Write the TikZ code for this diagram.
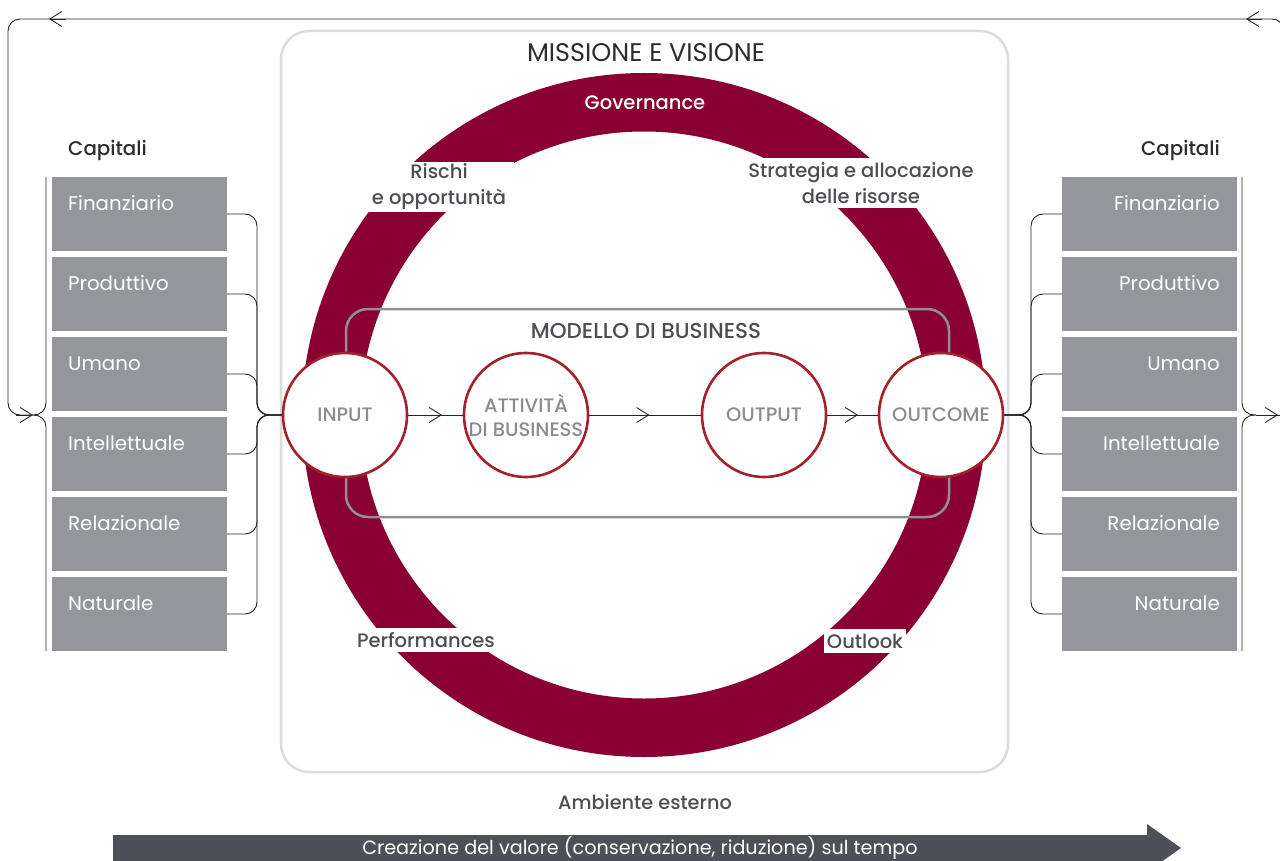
\documentclass[tikz,border=0pt]{standalone}
\usepackage{fontspec}
\setmainfont{Poppins}
\newfontfamily\medfont{Poppins}[UprightFont={* Medium}]
\usetikzlibrary{arrows.meta,decorations.markings}
\definecolor{ringc}{RGB}{138,0,51}
\definecolor{circc}{RGB}{165,32,45}
\definecolor{boxg}{RGB}{148,150,156}
\definecolor{framec}{RGB}{220,220,216}
\definecolor{bizc}{RGB}{142,144,150}
\definecolor{darktxt}{RGB}{45,45,47}
\definecolor{lblg}{RGB}{75,78,83}
\definecolor{procg}{RGB}{138,140,144}
\definecolor{arrowd}{RGB}{77,81,87}
\newcommand{\myfs}[2]{\fontsize{#1}{#2}\selectfont}
\begin{document}
\begin{tikzpicture}[x=1pt,y=-1pt,
  capbox/.style={fill=boxg, minimum width=175pt, minimum height=74pt, inner sep=0pt},
  captext/.style={text=white, font=\myfs{19.8}{22}, inner sep=0pt},
  caphead/.style={text=darktxt, font=\medfont\myfs{19.8}{22}, inner sep=0pt},
  proc/.style={circle, draw=circc, line width=2.6pt, fill=white, minimum size=124pt, inner sep=0pt, text=procg, font=\medfont\myfs{19.5}{24}, align=center},
  thinln/.style={draw=black!85, line width=0.9pt},
  barb/.style={thinln, -{Straight Barb[length=12pt,width=15pt]}},
  midbarb/.style={thinln, postaction={decorate}, decoration={markings, mark=at position #1 with {\arrow{Straight Barb[length=12pt,width=15pt]}}}},
  ringlbl/.style={fill=white, text=lblg, font=\medfont\myfs{19.5}{26}, align=center, inner ysep=0pt, inner xsep=8pt},
]
\useasboundingbox (0,0) rectangle (1280,861);
\fill[white] (0,0) rectangle (1280,861);

% mission frame
\draw[framec, line width=2.5pt, rounded corners=28pt] (281,31) rectangle (1008,772);
\node[text=darktxt, font=\myfs{25.5}{28}] (mission) at (646,53) {MISSIONE E VISIONE};

% ring
\fill[ringc, even odd rule] (644,415) circle[radius=342pt] (644,415) circle[radius=283.5pt];
\node[text=white, font=\medfont\myfs{19.5}{22}] (gov) at (645,103) {Governance};
\node[ringlbl, minimum height=50pt] (risk) at (439,187) {Rischi\\e opportunità};
\node[ringlbl, minimum height=50pt] (strat) at (861,183) {Strategia e allocazione\\delle risorse};
\node[ringlbl, minimum height=24pt, inner xsep=3pt] (perf) at (426,640) {Performances};
\node[ringlbl, minimum height=24pt, inner xsep=3pt] (outl) at (865,641) {Outlook};

% business model
\draw[bizc, line width=2.5pt, rounded corners=22pt] (346,309) rectangle (949,517);
\node[text=lblg, font=\medfont\myfs{21.5}{24}] (biz) at (646,331) {MODELLO DI BUSINESS};

% process circles
\node[proc] (input) at (345,415) {INPUT};
\node[proc] (act) at (526,415) {ATTIVITÀ\\DI BUSINESS};
\node[proc] (output) at (764,415) {OUTPUT};
\node[proc] (outcome) at (941,415) {OUTCOME};
\draw[midbarb=0.62] (input.east) -- (act.west);
\draw[midbarb=0.54] (act.east) -- (output.west);
\draw[midbarb=0.61] (output.east) -- (outcome.west);

% capital boxes
\node[caphead, anchor=base west] (capL) at (68,156) {Capitali};
\node[caphead, anchor=base east] (capR) at (1220,156) {Capitali};
\foreach \i/\t in {0/Finanziario,1/Produttivo,2/Umano,3/Intellettuale,4/Relazionale,5/Naturale}{
  \node[capbox] (L\i) at (139.5,214+80*\i) {};
  \node[captext, anchor=base west] (LT\i) at (68,210.5+80*\i) {\t};
  \node[capbox] (R\i) at (1149.5,214+80*\i) {};
  \node[captext, anchor=base east] (RT\i) at (1220,210.5+80*\i) {\t};
  \draw[thinln, rounded corners=12pt] (L\i.east) -- (257,214+80*\i) -- (257,415) -- (input.west);
  \draw[thinln, rounded corners=12pt] (R\i.west) -- (1031,214+80*\i) -- (1031,415) -- (outcome.east);
}

% braces
\coordinate (lt) at (32,415);
\coordinate (rt) at (1256,415);
\draw[thinln, rounded corners=12pt] (46,177) -- (46,415) -- (lt);
\draw[thinln, rounded corners=12pt] (lt) -- (46,415) -- (46,651);
\draw[thinln, rounded corners=12pt] (1242,177) -- (1242,415) -- (rt);
\draw[thinln, rounded corners=12pt] (rt) -- (1242,415) -- (1242,651);

% feedback loop
\draw[thinln] (rt) -- (1282,415);
\draw[thinln, rounded corners=12pt] (1284,430) -- (1284,19) -- (8,19) -- (8,415) -- (lt);
\draw[barb] (1262,19) -- (1246,19);
\draw[barb] (66,19) -- (49,19);
\draw[barb] (1262,415) -- (1278,415);
\draw[barb] (16,415) -- (33,415);

% bottom
\node[text=lblg, font=\medfont\myfs{19.3}{22}] (amb) at (645,802) {Ambiente esterno};
\fill[arrowd] (113,835) -- (1147,835) -- (1147,824) -- (1181,848) -- (1147,872) -- (1147,861) -- (113,861) -- cycle;
\node[text=white, font=\myfs{19.2}{22}] (crea) at (640,848) {Creazione del valore (conservazione, riduzione) sul tempo};
\end{tikzpicture}
\end{document}
